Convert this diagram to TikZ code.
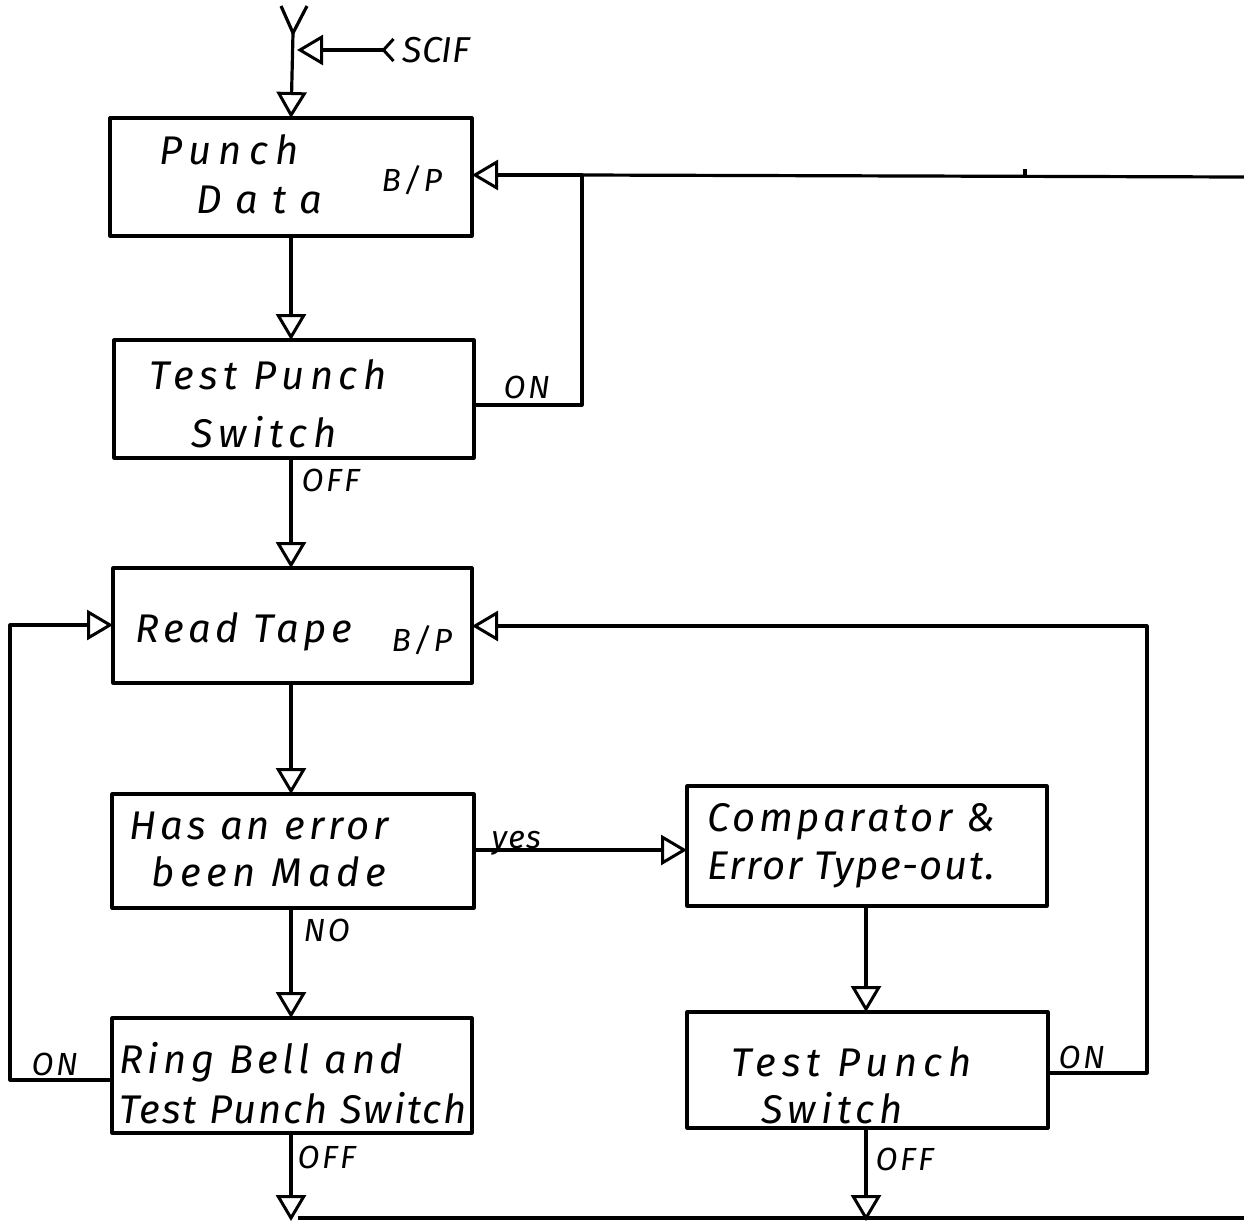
\documentclass[tikz,border=0pt]{standalone}
\usepackage{fontspec}
\setmainfont{Fira Sans}
\usetikzlibrary{arrows.meta}
\begin{document}
\begin{tikzpicture}[x=1pt,y=-1pt,
  line width=3.2pt, line join=round,
  box/.style={draw, inner sep=0pt, outer sep=0pt},
  txt/.style={font=\fontsize{40}{48}\selectfont\itshape\addfontfeatures{LetterSpace=#1}, inner sep=0pt, anchor=west},
  txt/.default=10,
  lbl/.style={font=\fontsize{32}{36}\selectfont\itshape\addfontfeatures{LetterSpace=#1}, inner sep=0pt, anchor=west},
  lbl/.default=8,
  tri/.style={-{Triangle[open,length=26pt,width=30pt,line width=3pt]}},
]
\useasboundingbox (0,0) rectangle (1244,1224);
% boxes
\node[box, minimum width=362pt, minimum height=118pt] (b1) at (291,177) {};
\node[box, minimum width=360pt, minimum height=118pt] (b2) at (294,399) {};
\node[box, minimum width=359pt, minimum height=115pt] (b3) at (292.5,625.5) {};
\node[box, minimum width=362pt, minimum height=114pt] (b4) at (293,851) {};
\node[box, minimum width=360pt, minimum height=120pt] (b5) at (867,846) {};
\node[box, minimum width=360pt, minimum height=115pt] (b6) at (292,1075.5) {};
\node[box, minimum width=361pt, minimum height=116pt] (b7) at (867.5,1070) {};
% texts
\node[txt=18] (t1a) at (158,150) {Punch};
\node[txt=34] (t1b) at (195,200) {Data};
\node[lbl=10] (t1c) at (380,180) {B/P};
\node[txt=14] (t2a) at (148,375) {Test Punch};
\node[txt=14] (t2b) at (190,432) {Switch};
\node[txt=11] (t3a) at (134,632) {Read Tape};
\node[lbl=10] (t3b) at (390,640) {B/P};
\node[txt=10] (t4a) at (128,826) {Has an error};
\node[txt=14] (t4b) at (150,872) {been Made};
\node[txt=9] (t5a) at (706,822) {Comparator \&};
\node[txt=4] (t5b) at (706,870) {Error Type-out.};
\node[txt=11] (t6a) at (118,1062) {Ring Bell and};
\node[txt=5] (t6b) at (118,1108) {Test Punch Switch};
\node[txt=15] (t7a) at (730,1062) {Test Punch};
\node[txt=12] (t7b) at (760,1108) {Switch};
% connector labels
\node[lbl=12, font=\fontsize{36}{40}\selectfont\itshape] (scif) at (395,50) {\,SCIF};
\node[lbl] (on1) at (502,387) {ON};
\node[lbl] (off1) at (300,480) {OFF};
\node[lbl=4] (yes) at (490,843) {yes};
\node[lbl] (no) at (302,930) {NO};
\node[lbl] (on2) at (1057,1057) {ON};
\node[lbl] (on3) at (30,1064) {ON};
\node[lbl] (off2) at (296,1157) {OFF};
\node[lbl] (off3) at (874,1159) {OFF};
% coordinates
\coordinate (colA) at (291,0);
\coordinate (colB) at (866,0);
\coordinate (ytop) at (293,33);
\coordinate (yl) at (281,6);
\coordinate (yr) at (307,6);
\coordinate (scj) at (297,50);
\coordinate (c1) at (582,405);
\coordinate (c2) at (582,175);
\coordinate (c3) at (1244,177);
\coordinate (tk) at (1025,169);
\coordinate (tkb) at (1025,176);
\coordinate (ym) at (0,850);
\coordinate (c4) at (1147,1073);
\coordinate (c5) at (1147,626);
\coordinate (c6) at (10,1080);
\coordinate (c7) at (10,625);
\coordinate (e1) at (291,1221);
\coordinate (e2) at (866,1221);
\coordinate (e3) at (1244,1218);
\coordinate (e1b) at (298,1218);
% top
\draw (yl) -- (ytop) -- (yr);
\draw[tri] (ytop) -- (b1.north);
\draw[{Straight Barb[reversed,length=10pt,width=22pt,line width=3pt]}-{Triangle[open,length=26pt,width=30pt,line width=3pt]}] (scif.west) -- (scj);
% flow
\draw[tri] (b1.south -| colA) -- (b2.north -| colA);
\draw[tri] (b2.east |- c1) -- (c1) -- (c2) -- (b1.east |- c2);
\draw (c2) -- (c3);
\draw (tk) -- (tkb);
\draw[tri] (b2.south -| colA) -- (b3.north -| colA);
\draw[tri] (b3.south -| colA) -- (b4.north -| colA);
\draw[tri] (b4.east |- ym) -- (b5.west |- ym);
\draw[tri] (b4.south -| colA) -- (b6.north -| colA);
\draw[tri] (b5.south -| colB) -- (b7.north -| colB);
\draw[tri] (b7.east |- c4) -- (c4) -- (c5) -- (b3.east |- c5);
\draw[tri] (b6.west |- c6) -- (c6) -- (c7) -- (b3.west |- c7);
\draw[tri] (b6.south -| colA) -- (e1);
\draw[tri] (b7.south -| colB) -- (e2);
\draw (e1b) -- (e3);
\end{tikzpicture}
\end{document}
